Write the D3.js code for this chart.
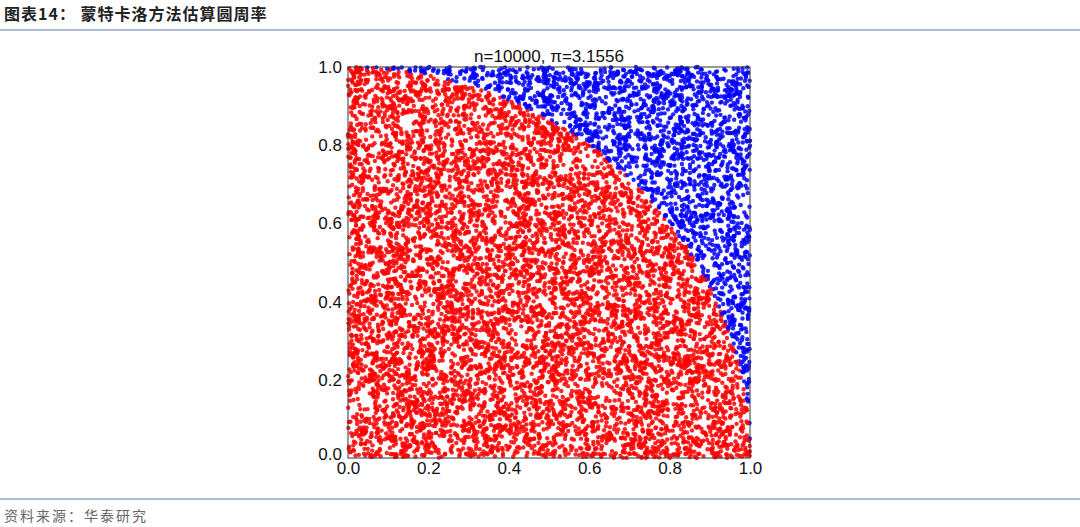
<!DOCTYPE html>
<html><head><meta charset="utf-8">
<script src="https://cdn.jsdelivr.net/npm/d3@7"></script>
<style>
body{margin:0;background:#fff;font-family:"Liberation Sans",Arial,sans-serif;}
</style></head>
<body><div id="chart"></div>
<script>
// Chart content
const figTitle = "图表14：   蒙特卡洛方法估算圆周率";
const sourceText = "资料来源：华泰研究";
const sampleCount = 10000;
const piEstimate = "3.1556";
const tickValues = [0.0, 0.2, 0.4, 0.6, 0.8, 1.0];
const insideColor = "#ff0000";
const outsideColor = "#0000ff";

const width = 1080, height = 527;
const plot = {left: 348, right: 750, top: 67, bottom: 458};

const svg = d3.select("#chart").append("svg")
    .attr("width", width).attr("height", height);

// Header and footer
svg.append("text").attr("x", 4).attr("y", 20)
    .attr("font-family", "Noto Sans CJK SC").attr("font-weight", "bold")
    .attr("font-size", 16).attr("letter-spacing", 1).attr("fill", "#222").text(figTitle);
svg.append("line").attr("x1", 0).attr("x2", width).attr("y1", 30).attr("y2", 30)
    .attr("stroke", "#5b7ca8").attr("stroke-width", 1);
svg.append("line").attr("x1", 0).attr("x2", width).attr("y1", 499).attr("y2", 499)
    .attr("stroke", "#5b7ca8").attr("stroke-width", 1);
svg.append("text").attr("x", 4).attr("y", 521)
    .attr("font-family", "Noto Sans CJK SC").attr("font-size", 14).attr("letter-spacing", 2)
    .attr("fill", "#666").text(sourceText);

// Scales
const xScale = d3.scaleLinear().domain([0, 1]).range([plot.left, plot.right]);
const yScale = d3.scaleLinear().domain([0, 1]).range([plot.bottom, plot.top]);

// Monte Carlo samples (the chart shows uniform random draws; seeded so it is repeatable)
const rng = d3.randomLcg(0.4242);
const samples = d3.range(sampleCount).map(() => {
    const x = rng(), y = rng();
    return {x, y, inside: x * x + y * y <= 1};
});

svg.append("g").selectAll("circle")
    .data(samples)
    .join("circle")
        .attr("cx", d => xScale(d.x))
        .attr("cy", d => yScale(d.y))
        .attr("r", 2.2)
        .attr("fill", d => d.inside ? insideColor : outsideColor)
        .attr("fill-opacity", 0.85);

// Frame
svg.append("rect").attr("x", plot.left).attr("y", plot.top)
    .attr("width", plot.right - plot.left).attr("height", plot.bottom - plot.top)
    .attr("fill", "none").attr("stroke", "#333").attr("stroke-width", 1);

// Axes
const fmt = d3.format(".1f");
const xAxis = svg.append("g").attr("transform", `translate(0,${plot.bottom})`)
    .call(d3.axisBottom(xScale).tickValues(tickValues).tickFormat(fmt).tickSize(0).tickPadding(4));
const yAxis = svg.append("g").attr("transform", `translate(${plot.left - 2},0)`)
    .call(d3.axisLeft(yScale).tickValues(tickValues).tickFormat(fmt).tickSize(0).tickPadding(4));
[xAxis, yAxis].forEach(g => {
    g.select(".domain").remove();
    g.selectAll("text").attr("font-size", 17).attr("fill", "#111")
        .attr("font-family", "Liberation Sans, Arial, sans-serif");
});
// y-axis bottom label sits slightly higher, as in the reference
yAxis.selectAll(".tick").filter(d => d === 0).select("text").attr("dy", "0.1em");

// Plot title
svg.append("text").attr("x", (plot.left + plot.right) / 2).attr("y", plot.top - 5)
    .attr("text-anchor", "middle").attr("font-size", 17).attr("fill", "#111")
    .text(`n=${sampleCount}, π=${piEstimate}`);
</script>
</body></html>
